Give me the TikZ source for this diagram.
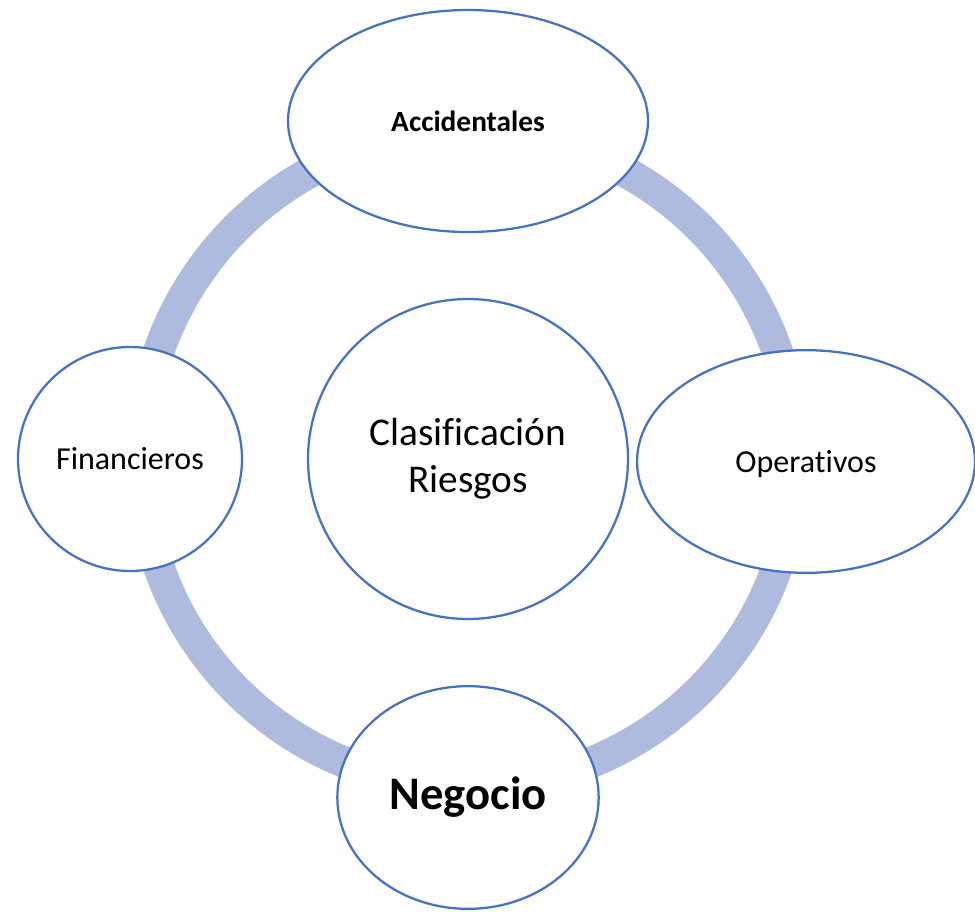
\documentclass[tikz,border=0pt]{standalone}
\usepackage{fontspec}
\setmainfont{Carlito}[RawFeature={-liga;-clig;-dlig}]
\usetikzlibrary{shapes.geometric}
\definecolor{ringcol}{RGB}{175,187,222}
\definecolor{edgecol}{RGB}{68,114,196}
\tikzset{
  bubble/.style={ellipse, draw=edgecol, line width=1.7pt, fill=white, inner sep=0pt, align=center, text=black},
  ringline/.style={draw=ringcol, line width=23.5pt},
}
\begin{document}
\begin{tikzpicture}[x=0.75pt,y=-0.75pt]
\useasboundingbox (0,0) rectangle (975,911);
\coordinate (ctr) at (468,459);
\draw[ringline] (ctr) circle[radius=245.5pt];
\node[bubble, minimum width=240pt, minimum height=240pt, font=\fontsize{29.5}{35.5}\selectfont] (main) at (468,459) {Clasificación\\Riesgos};
\node[bubble, minimum width=270pt, minimum height=166.5pt, font=\fontsize{22}{26}\selectfont\bfseries] (acc) at (468,121) {Accidentales};
\node[bubble, minimum width=168pt, minimum height=168pt, font=\fontsize{24}{29}\selectfont] (fin) at (130,459) {Financieros};
\node[bubble, minimum width=253.5pt, minimum height=167pt, text depth=0pt, font=\fontsize{24}{29}\selectfont] (ope) at (806,461.5) {Operativos};
\node[bubble, minimum width=196pt, minimum height=167pt, font=\fontsize{35}{42}\selectfont\bfseries] (neg) at (468,797.5) {Negocio};
\end{tikzpicture}
\end{document}
